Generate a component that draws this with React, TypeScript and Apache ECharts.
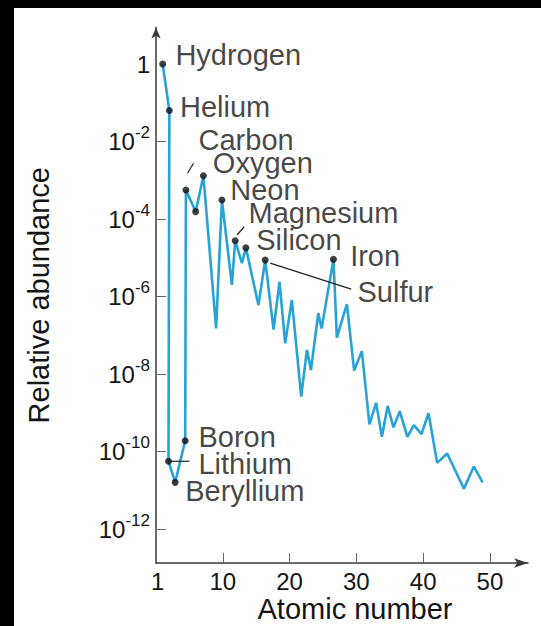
import React, { useEffect, useRef } from 'react';
import * as echarts from 'echarts';

// Atomic number positions of the plotted vertices
const atomicNumber = [
  1, 2, 1.87, 2.87, 4.37, 4.48, 5.94, 7.1, 9.0, 9.87,
  11.36, 11.86, 12.86, 13.46, 15.34, 16.35, 17.6, 18.5, 19.34, 20.34,
  21.74, 22.6, 23.2, 24.3, 24.8, 26.57, 27.08, 28.58, 29.67, 30.82,
  31.96, 32.96, 33.82, 34.69, 35.55, 36.5, 37.63, 38.6, 39.75, 40.8,
  42.1, 43.6, 46.1, 47.6, 48.9,
];
// Relative abundance at each vertex
const abundance = [
  1, 6.3e-2, 5.6e-11, 1.6e-11, 1.9e-10, 5.6e-4, 1.55e-4, 1.3e-3, 1.5e-7, 3.1e-4,
  2e-6, 2.75e-5, 7.3e-6, 1.8e-5, 6e-7, 8.7e-6, 1.4e-7, 2.4e-6, 6.2e-8, 8.1e-7,
  2.6e-9, 4.2e-8, 1.26e-8, 3.7e-7, 1.5e-7, 9.1e-6, 8.7e-8, 6.4e-7, 1.23e-8, 3.9e-8,
  5e-10, 1.8e-9, 2.4e-10, 1.5e-9, 4.2e-10, 1.1e-9, 2.4e-10, 4.8e-10, 2.8e-10, 9.7e-10,
  5.1e-11, 8.9e-11, 1.1e-11, 4.1e-11, 1.6e-11,
];
// Marked (dotted) elements: index into the series, and their names
const markedIndex = [0, 1, 2, 3, 4, 5, 6, 7, 9, 11, 13, 15, 25];
const markedName = ['Hydrogen', 'Helium', 'Lithium', 'Beryllium', 'Boron', 'Carbon', '', 'Oxygen', 'Neon', 'Magnesium', 'Silicon', 'Sulfur', 'Iron'];

// Axis ticks / labels
const yLabelExponents = [-12, -10, -8, -6, -4, -2, 0];
const yTickExponents = [-12, -10, -8, -6, -4, -2];
const xTickValues = [10, 20, 30, 40, 50];
const xLabelValues = [1, 10, 20, 30, 40, 50];

// Layout (pixel offsets of label text from its dot: left edge, vertical centre)
const labelOffset: Record<string, [number, number]> = {
  Hydrogen: [12.7, -9.5],
  Helium: [10.6, -3.5],
  Lithium: [30, 3],
  Beryllium: [10, 9],
  Boron: [13.3, -4],
  Carbon: [12.6, -50.5],
  Oxygen: [9.4, -13],
  Neon: [8.3, -10.3],
  Magnesium: [13.3, -27.7],
  Silicon: [10.3, -7.5],
  Sulfur: [92.3, 31.5],
  Iron: [16.7, -3],
};
const leaderLines: Record<string, [[number, number], [number, number]]> = {
  Carbon: [[1.6, -16.7], [7.6, -26.7]],
  Magnesium: [[2, -6], [9, -14]],
  Lithium: [[0, 0], [21, 0]],
  Sulfur: [[5, 3], [86, 29]],
};

const FONT = "'Liberation Sans', Arial, Helvetica, sans-serif";
const TEXT = '#151515';
const DOT = 7;

export default function App() {
  const ref = useRef<HTMLDivElement>(null);
  useEffect(() => {
    if (!ref.current) return;
    const chart = echarts.init(ref.current, undefined, { renderer: 'svg' });
    const lineData = atomicNumber.map((z, i) => [z, Math.log10(abundance[i])]);
    const dotData = markedIndex.map((idx, k) => {
      const name = markedName[k];
      const off = labelOffset[name];
      return {
        value: lineData[idx],
        name,
        label: name
          ? { show: true, formatter: name, position: 'right', distance: 0, offset: [off[0] - DOT / 2, off[1]] }
          : { show: false },
      };
    });

    chart.setOption({
      animation: false,
      backgroundColor: '#ffffff',
      grid: { left: 156, right: 13, top: 27.5, bottom: 63, containLabel: false, outerBoundsMode: 'none' },
      xAxis: {
        type: 'value',
        min: 0,
        max: 55.7,
        name: 'Atomic number',
        nameLocation: 'middle',
        nameGap: 31,
        nameMoveOverlap: false,
        nameTextStyle: { fontSize: 29, fontFamily: FONT, color: TEXT, padding: [0, 0, 0, 26] },
        axisLine: { show: true, onZero: false, lineStyle: { color: '#3a3a3a', width: 1.5 }, symbol: ['none', 'arrow'], symbolSize: [7, 14] },
        axisTick: { show: true, inside: true, length: 10, lineStyle: { color: '#666', width: 1 }, customValues: xTickValues },
        axisLabel: {
          customValues: xLabelValues,
          margin: 6,
          formatter: (v: number) => (v === 1 ? '{one|1}' : '{n|' + v + '}'),
          rich: {
            n: { fontSize: 24, fontFamily: FONT, color: TEXT },
            one: { fontSize: 24, fontFamily: FONT, color: TEXT, padding: [0, 10, 0, 0] },
          },
        },
        splitLine: { show: false },
      },
      yAxis: {
        type: 'value',
        min: -12.877,
        max: 0.942,
        name: 'Relative abundance',
        nameLocation: 'middle',
        nameGap: 103,
        nameTextStyle: { fontSize: 29, fontFamily: FONT, color: TEXT },
        axisLine: { show: true, onZero: false, lineStyle: { color: '#3a3a3a', width: 1.5 }, symbol: ['none', 'arrow'], symbolSize: [7, 11] },
        axisTick: { show: true, inside: true, length: 10, lineStyle: { color: '#666', width: 1 }, customValues: yTickExponents },
        axisLabel: {
          customValues: yLabelExponents,
          margin: 6,
          formatter: (v: number) => (v === 0 ? '{b|1}' : '{b|10}{s|' + v + '}'),
          rich: {
            b: { fontSize: 24, fontFamily: FONT, color: TEXT },
            s: { fontSize: 17, fontFamily: FONT, color: TEXT, padding: [0, 0, 18, 0] },
          },
        },
        splitLine: { show: false },
      },
      series: [
        {
          type: 'line',
          data: lineData,
          symbol: 'none',
          showSymbol: false,
          clip: false,
          lineStyle: { color: '#29a3d6', width: 2.6 },
          z: 2,
        },
        {
          type: 'scatter',
          data: dotData,
          symbol: 'circle',
          symbolSize: DOT,
          clip: false,
          itemStyle: { color: '#111' },
          label: { fontSize: 29, fontFamily: FONT, color: TEXT },
          z: 3,
        },
      ],
    });

    const graphics: any[] = [
      { type: 'rect', shape: { x: 0, y: 0, width: 541, height: 8 }, style: { fill: '#000' }, z: 100 },
      { type: 'rect', shape: { x: 0, y: 0, width: 14, height: 626 }, style: { fill: '#000' }, z: 100 },
    ];
    Object.keys(leaderLines).forEach((name) => {
      const k = markedName.indexOf(name);
      const p = chart.convertToPixel({ gridIndex: 0 }, lineData[markedIndex[k]]) as number[];
      const [a, b] = leaderLines[name];
      graphics.push({
        type: 'line',
        shape: { x1: p[0] + a[0], y1: p[1] + a[1], x2: p[0] + b[0], y2: p[1] + b[1] },
        style: { stroke: '#222', lineWidth: 1.2 },
        z: 50,
      });
    });
    chart.setOption({ graphic: graphics });

    return () => chart.dispose();
  }, []);
  return (
    <div
      ref={ref}
      style={{ position: 'fixed', left: 0, top: 0, width: 541, height: 626, background: '#fff' }}
    />
  );
}
